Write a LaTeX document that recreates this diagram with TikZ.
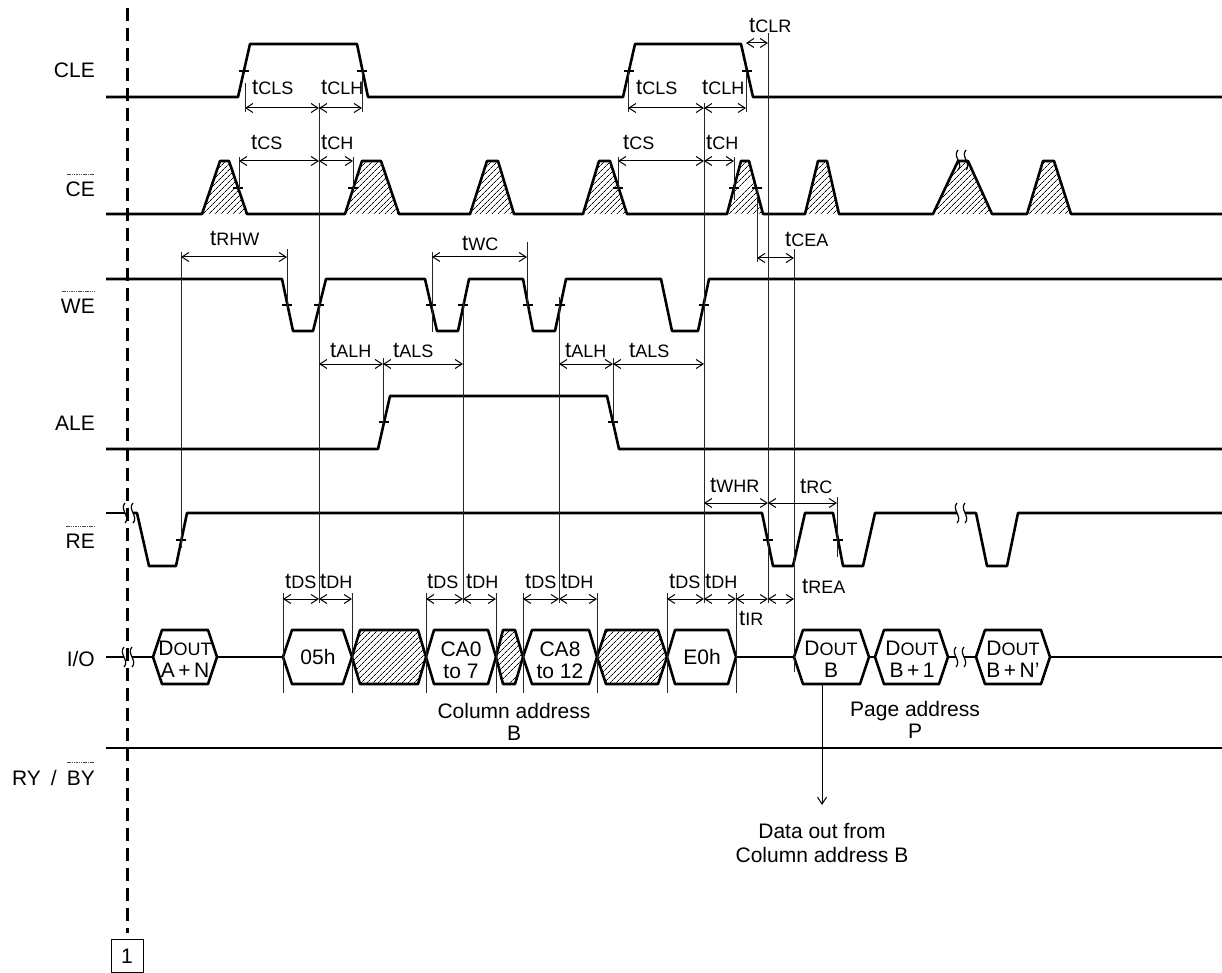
\documentclass[tikz,border=0pt]{standalone}
\usepackage{fontspec}
\setmainfont{Liberation Sans}
\usetikzlibrary{arrows.meta,patterns.meta}
\newcommand\sbs[1]{{\fontsize{18}{18}\selectfont #1}}
\newcommand\tlb[4]{\node[tlab] (#1) at (#2,#3) {t\sbs{#4}};}
\newcommand\tck[2]{\draw[tk] (#1,#2) ++(-5,0) -- ++(10,0);}
\newcommand\dm[3]{\draw[dim] (#1,#3) -- (#2,#3);}
\newcommand\vl[3]{\draw[ref] (#1,#2) -- (#1,#3);}
\newcommand\brk[2]{\draw[sq] (#1,#2-10) .. controls (#1-6,#2-4) and (#1+6,#2+4) .. (#1,#2+10);}
\newcommand\hexd[5]{\draw[wave,#5] (#1,657) -- (#2,630) -- (#3,630) -- (#4,657) -- (#3,684) -- (#2,684) -- cycle;}
\begin{document}
\begin{tikzpicture}[x=1pt,y=-1pt,
  wave/.style={line width=2.6pt,line join=round},
  ref/.style={line width=1pt,black!85},
  tk/.style={line width=1.2pt},
  sq/.style={line width=1.2pt},
  dim/.style={line width=1pt,{Straight Barb[length=7pt,width=9pt]}-{Straight Barb[length=7pt,width=9pt]}},
  hatch/.style={pattern={Lines[angle=45,distance=4pt,line width=0.7pt]}},
  tlab/.style={anchor=base west,inner sep=0pt,font=\fontsize{22}{22}\selectfont},
  txt/.style={inner sep=0pt,font=\fontsize{21}{22}\selectfont,align=center},
  rowlab/.style={anchor=base east,inner sep=0pt,font=\fontsize{21}{22}\selectfont},
  ovl/.style={line width=0.7pt,black!70,dash pattern=on 1.5pt off 0.8pt}]
\useasboundingbox (0,0) rectangle (1222,973);

% row labels
\node[rowlab] (lCLE) at (95,78) {CLE};
\node[rowlab] (lCE) at (95,197) {CE};
\node[rowlab] (lWE) at (95,313) {WE};
\node[rowlab] (lALE) at (95,430) {ALE};
\node[rowlab] (lRE) at (95,548) {RE};
\node[rowlab] (lIO) at (95,666) {I/O};
\node[rowlab] (lRB) at (95,785) {RY\hspace{10pt}/\hspace{10pt}BY};
\draw[ovl] (67,174) -- (94,174);
\draw[ovl] (62,291) -- (95,291);
\draw[ovl] (66,526) -- (95,526);
\draw[ovl] (67,762) -- (94,762);

% dashed marker line and box
\draw[line width=3pt,dash pattern=on 13pt off 7pt] (127,8) -- (127,933);
\node[draw,line width=1pt,minimum width=32pt,minimum height=33pt,inner sep=0pt,font=\fontsize{21}{22}\selectfont] (box1) at (127,956) {1};

% CE hatched pulses
\foreach \a/\b/\c/\d in {202/220/229/247,345/362/381/399,470/487/498/514,583/599/610/627,727/741/749/763,805/818/827/839,933/958/968/992,1027/1043/1054/1071}
  {\path[hatch] (\a,214) -- (\b,161) -- (\c,161) -- (\d,214) -- cycle;}

% waveforms
\draw[wave] (106,97) -- (238,97) -- (250,44) -- (357,44) -- (368,97) -- (623,97) -- (635,44) -- (741,44) -- (753,97) -- (1222,97);
\draw[wave] (106,214) -- (202,214) -- (220,161) -- (229,161) -- (247,214) -- (345,214) -- (362,161) -- (381,161) -- (399,214) -- (470,214) -- (487,161) -- (498,161) -- (514,214) -- (583,214) -- (599,161) -- (610,161) -- (627,214) -- (727,214) -- (741,161) -- (749,161) -- (763,214) -- (805,214) -- (818,161) -- (827,161) -- (839,214) -- (933,214) -- (958,161) -- (968,161) -- (992,214) -- (1027,214) -- (1043,161) -- (1054,161) -- (1071,214) -- (1222,214);
\draw[wave] (106,279) -- (282,279) -- (293,331) -- (313,331) -- (326,279) -- (425,279) -- (437,331) -- (458,331) -- (469,279) -- (523,279) -- (533,331) -- (555,331) -- (566,279) -- (661,279) -- (672,331) -- (698,331) -- (709,279) -- (1222,279);
\draw[wave] (106,449) -- (378,449) -- (390,396) -- (607,396) -- (619,449) -- (1222,449);
\draw[wave] (106,513) -- (125,513);
\draw[wave] (133,513) -- (137,513) -- (149,566) -- (176,566) -- (187,513) -- (762,513) -- (773,566) -- (793,566) -- (805,513) -- (833,513) -- (843,566) -- (863,566) -- (875,513) -- (957,513);
\draw[wave] (965,513) -- (976,513) -- (987,566) -- (1007,566) -- (1018,513) -- (1222,513);
\draw[wave] (106,748) -- (1222,748);

% I/O bus
\draw[wave] (106,657) -- (124,657);
\draw[wave] (132,657) -- (153,657);
\draw[wave] (217,657) -- (283,657);
\draw[wave] (736,657) -- (794,657);
\draw[wave] (869,657) -- (875,657);
\draw[wave] (948,657) -- (956,657);
\draw[wave] (964,657) -- (976,657);
\draw[wave] (1050,657) -- (1222,657);
\hexd{153}{162}{208}{217}{}
\hexd{283}{292}{343}{352}{}
\hexd{352}{360}{418}{426}{hatch}
\hexd{426}{434}{488}{496}{}
\hexd{496}{503}{515}{523}{hatch}
\hexd{523}{532}{589}{597}{}
\hexd{597}{606}{658}{667}{hatch}
\hexd{667}{675}{728}{736}{}
\hexd{794}{803}{860}{869}{}
\hexd{875}{884}{939}{948}{}
\hexd{976}{985}{1041}{1050}{}

% break marks
\brk{125}{513}\brk{133}{513}
\brk{957}{513}\brk{965}{513}
\brk{124}{657}\brk{132}{657}
\brk{956}{657}\brk{964}{657}
\brk{958}{160}\brk{966}{160}

% bus texts
\node[txt] (dA) at (185,659) {D\sbs{OUT}\\A\,+\,N};
\node[txt] (d05) at (318,657) {05h};
\node[txt] (dCA0) at (461,660) {CA0\\to 7};
\node[txt] (dCA8) at (560,660) {CA8\\to 12};
\node[txt] (dE0) at (702,657) {E0h};
\node[txt] (dB) at (831,659) {D\sbs{OUT}\\B};
\node[txt] (dB1) at (912,659) {D\sbs{OUT}\\B\,+\,1};
\node[txt] (dBN) at (1013,659) {D\sbs{OUT}\\B\,+\,N’};
\node[txt] (colB) at (514,722) {Column address\\B};
\node[txt] (pageP) at (915,720) {Page address\\P};
\node[txt,font=\fontsize{21}{24}\selectfont] (dout) at (822,843) {Data out from\\Column address B};
\draw[line width=1pt,-{Straight Barb[length=7pt,width=9pt]}] (822,684) -- (dout.north |- 0,805);

% ticks
\tck{244}{71}\tck{362}{71}\tck{629}{71}\tck{747}{71}
\tck{238}{188}\tck{353}{188}\tck{618}{188}\tck{734}{188}\tck{757}{188}
\tck{287}{305}\tck{319}{305}\tck{431}{305}\tck{463}{305}\tck{528}{305}\tck{560}{305}\tck{704}{305}
\tck{384}{422}\tck{613}{422}
\tck{181}{540}\tck{768}{540}\tck{838}{540}

% reference lines
\vl{245}{83}{112}\vl{362}{71}{112}\vl{628}{71}{112}\vl{746}{71}{112}
\vl{768}{33}{603}\vl{319}{103}{603}\vl{704}{103}{603}
\vl{239}{157}{190}\vl{353}{157}{190}\vl{618}{157}{190}\vl{734}{157}{200}\vl{757}{188}{262}
\vl{287}{249}{308}\vl{432}{252}{332}\vl{527}{242}{308}\vl{181}{252}{548}
\vl{383}{358}{423}\vl{613}{358}{423}
\vl{463}{300}{603}\vl{559}{297}{603}
\vl{837}{497}{557}\vl{794}{249}{672}
\foreach \x in {283,352,426,496,523,597,667,736} {\vl{\x}{593}{693}}

% dimension arrows
\dm{245}{319}{108}\dm{319}{362}{108}
\dm{239}{319}{161}\dm{319}{353}{161}
\dm{628}{704}{108}\dm{704}{746}{108}
\dm{746}{768}{43}
\dm{618}{704}{161}\dm{704}{734}{161}
\dm{181}{287}{257}\dm{432}{527}{257}\dm{757}{794}{258}
\dm{319}{383}{364}\dm{383}{463}{364}
\dm{559}{613}{364}\dm{613}{704}{364}
\dm{704}{768}{503}\dm{768}{837}{503}
\dm{283}{319}{599}\dm{319}{352}{599}
\dm{426}{463}{599}\dm{463}{496}{599}
\dm{523}{559}{599}\dm{559}{597}{599}
\dm{667}{704}{599}\dm{704}{736}{599}
\dm{736}{768}{599}\dm{768}{794}{599}

% timing labels
\tlb{tCLSa}{252}{95}{CLS}\tlb{tCLHa}{321}{95}{CLH}
\tlb{tCSa}{251}{150}{CS}\tlb{tCHa}{321}{150}{CH}
\tlb{tCLSb}{636}{95}{CLS}\tlb{tCLHb}{702}{95}{CLH}
\tlb{tCLR}{749}{33}{CLR}
\tlb{tCSb}{623}{150}{CS}\tlb{tCHb}{706}{150}{CH}
\tlb{tRHW}{210}{246}{RHW}\tlb{tWC}{462}{251}{WC}\tlb{tCEA}{785}{247}{CEA}
\tlb{tALHa}{330}{357}{ALH}\tlb{tALSa}{393}{357}{ALS}
\tlb{tALHb}{565}{357}{ALH}\tlb{tALSb}{629}{357}{ALS}
\tlb{tWHR}{710}{492}{WHR}\tlb{tRC}{800}{493}{RC}
\tlb{tREA}{802}{593}{REA}
\tlb{tDSa}{285}{588}{DS}\tlb{tDHa}{320}{588}{DH}
\tlb{tDSb}{427}{588}{DS}\tlb{tDHb}{466}{588}{DH}
\tlb{tDSc}{525}{588}{DS}\tlb{tDHc}{561}{588}{DH}
\tlb{tDSd}{669}{588}{DS}\tlb{tDHd}{705}{588}{DH}
\tlb{tIR}{739}{625}{IR}
\end{tikzpicture}
\end{document}
